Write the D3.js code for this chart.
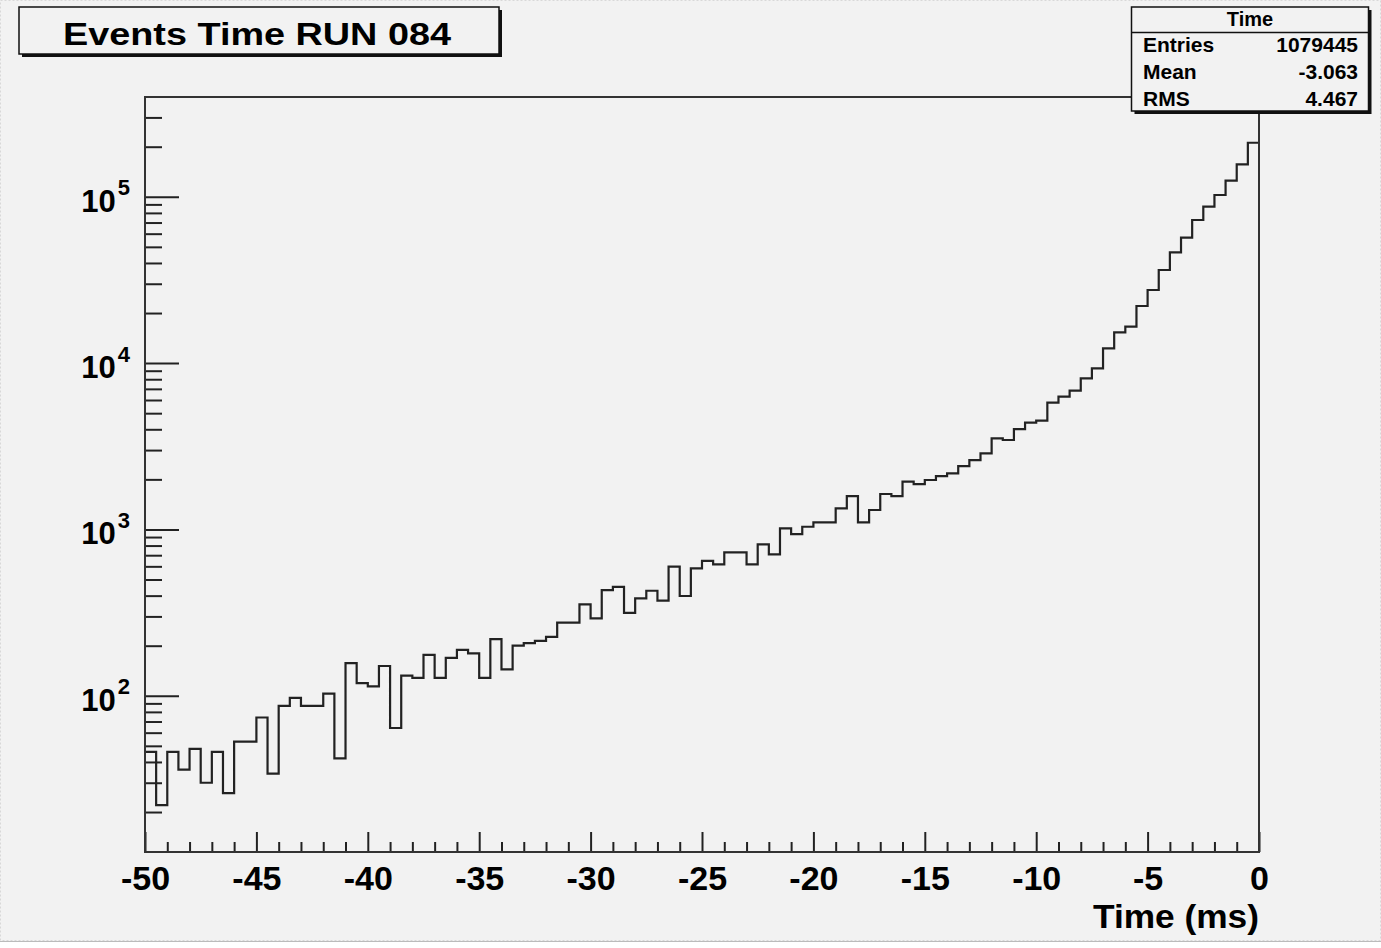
<!DOCTYPE html>
<html>
<head>
<meta charset="utf-8">
<script src="https://cdn.jsdelivr.net/npm/d3@7"></script>
<style>
  html, body { margin: 0; padding: 0; background: #ffffff; }
  svg { display: block; }
  text { font-family: "Liberation Sans", Arial, Helvetica, sans-serif; font-weight: bold; fill: #000; }
</style>
</head>
<body>
<div id="chart"></div>
<script>
// Histogram: event time distribution, 100 bins of 0.5 ms from -50 to 0 ms
const timeRange = [-50, 0];
const binCounts = [
  46, 22, 46, 36, 48, 30, 46, 26, 53, 53,
  74, 34, 87, 97, 87, 87, 103, 42, 157, 119,
  114, 151, 64, 132, 128, 176, 128, 169, 189, 180,
  128, 219, 144, 200, 207, 214, 226, 275, 275, 354,
  292, 432, 452, 315, 385, 428, 373, 597, 398, 584,
  648, 617, 728, 728, 617, 813, 708, 1015, 938, 1038,
  1103, 1103, 1339, 1588, 1103, 1309, 1633, 1588, 1936, 1874,
  1982, 2094, 2173, 2404, 2612, 2868, 3530, 3448, 4015, 4382,
  4505, 5780, 6281, 6827, 8101, 9305, 12270, 15310, 16550, 22040,
  27520, 36290, 46370, 56790, 72530, 87200, 102500, 125000, 156700, 211300
];
const countRange = [11.5, 3.98e5];
const xMajorTicks = [-50, -45, -40, -35, -30, -25, -20, -15, -10, -5, 0];
const xTickLabels = ["-50", "-45", "-40", "-35", "-30", "-25", "-20", "-15", "-10", "-5", "0"];
const yDecades = [100, 1000, 10000, 100000];
const yDecadeExponents = ["2", "3", "4", "5"];
const titleText = "Events Time RUN 084";
const statsName = "Time";
const statsLabels = ["Entries", "Mean", "RMS"];
const statsValues = ["1079445", "-3.063", "4.467"];
const xAxisTitle = "Time (ms)";

const W = 1381, H = 948;
const frame = { left: 145, top: 97, right: 1259, bottom: 852 };
const bg = "#f2f2f2";
const ink = "#222";

const svg = d3.select("#chart").append("svg")
  .attr("width", W).attr("height", H);

// canvas background
svg.append("rect").attr("x", 0).attr("y", 0).attr("width", W).attr("height", 941).attr("fill", bg);
svg.append("rect").attr("x", 0.5).attr("y", 0.5).attr("width", W - 1).attr("height", 940)
  .attr("fill", "none").attr("stroke", "#d8d8d8").attr("stroke-dasharray", "2,2");
svg.append("line").attr("x1", 0).attr("x2", W).attr("y1", 941.5).attr("y2", 941.5)
  .attr("stroke", "#bbb").attr("stroke-width", 1);

const x = d3.scaleLinear().domain(timeRange).range([frame.left, frame.right]);
const y = d3.scaleLog().domain(countRange).range([frame.bottom, frame.top]);

const nBins = binCounts.length;
const binWidth = (timeRange[1] - timeRange[0]) / nBins;
const bins = binCounts.map((c, i) => ({ x0: timeRange[0] + i * binWidth, c }));
bins.push({ x0: timeRange[1], c: binCounts[nBins - 1] });

// x axis: minor ticks every 1 ms, major every 5 ms (ticks point inward)
const xMinor = d3.range(timeRange[0], timeRange[1] + 1, 1).filter(v => v % 5 !== 0);
svg.append("g").attr("transform", `translate(0,${frame.bottom})`)
  .call(d3.axisBottom(x).tickValues(xMinor).tickSize(-10).tickFormat(""))
  .call(g => g.select(".domain").remove())
  .call(g => g.selectAll("line").attr("stroke", ink).attr("stroke-width", 2));

svg.append("g").attr("transform", `translate(0,${frame.bottom})`)
  .call(d3.axisBottom(x).tickValues(xMajorTicks).tickSize(-20).tickPadding(15)
    .tickFormat((d, i) => xTickLabels[i]))
  .call(g => g.select(".domain").remove())
  .call(g => g.selectAll("line").attr("stroke", ink).attr("stroke-width", 2))
  .call(g => g.selectAll("text")
    .attr("font-size", 34).attr("font-family", null).attr("fill", "#000")
    .attr("y", 38).attr("dy", 0));

// y axis: log scale, decades labelled, 2..9 minor ticks
const yMinor = [];
for (let d = 10; d <= 1e5; d *= 10) {
  for (let k = 2; k <= 9; k++) {
    const v = k * d;
    if (v >= countRange[0] && v <= countRange[1]) yMinor.push(v);
  }
}
svg.append("g").attr("transform", `translate(${frame.left},0)`)
  .call(d3.axisLeft(y).tickValues(yMinor).tickSize(-17).tickFormat(""))
  .call(g => g.select(".domain").remove())
  .call(g => g.selectAll("line").attr("stroke", ink).attr("stroke-width", 2));

svg.append("g").attr("transform", `translate(${frame.left},0)`)
  .call(d3.axisLeft(y).tickValues(yDecades).tickSize(-34).tickFormat(""))
  .call(g => g.select(".domain").remove())
  .call(g => g.selectAll("line").attr("stroke", ink).attr("stroke-width", 2));

yDecades.forEach((v, i) => {
  const t = svg.append("text")
    .attr("x", frame.left - 15)
    .attr("y", y(v) + 15)
    .attr("text-anchor", "end")
    .attr("font-size", 31);
  t.append("tspan").text("10");
  t.append("tspan").attr("dy", -16.5).attr("dx", 2).attr("font-size", 22).text(yDecadeExponents[i]);
});

// histogram outline
const line = d3.line()
  .x(d => x(d.x0))
  .y(d => y(d.c))
  .curve(d3.curveStepAfter);
svg.append("path")
  .datum(bins)
  .attr("d", line)
  .attr("fill", "none")
  .attr("stroke", ink)
  .attr("stroke-width", 2.2);

// frame
svg.append("rect")
  .attr("x", frame.left).attr("y", frame.top)
  .attr("width", frame.right - frame.left).attr("height", frame.bottom - frame.top)
  .attr("fill", "none").attr("stroke", "#333").attr("stroke-width", 2);

// x axis title
svg.append("text")
  .attr("x", frame.right).attr("y", 928)
  .attr("text-anchor", "end").attr("font-size", 34)
  .attr("textLength", 166).attr("lengthAdjust", "spacingAndGlyphs")
  .text(xAxisTitle);

// boxes with drop shadow
function shadowBox(x0, y0, w, h) {
  svg.append("rect").attr("x", x0 + 3).attr("y", y0 + 3).attr("width", w).attr("height", h)
    .attr("fill", "#111");
  svg.append("rect").attr("x", x0).attr("y", y0).attr("width", w).attr("height", h)
    .attr("fill", bg).attr("stroke", "#111").attr("stroke-width", 1.5);
}

// title box
shadowBox(19, 7, 480, 47);
svg.append("text")
  .attr("x", 257).attr("y", 45)
  .attr("text-anchor", "middle").attr("font-size", 32)
  .attr("textLength", 388).attr("lengthAdjust", "spacingAndGlyphs")
  .text(titleText);

// statistics box
const sb = { x: 1131.5, y: 7, w: 237, h: 104 };
shadowBox(sb.x, sb.y, sb.w, sb.h);
svg.append("line")
  .attr("x1", sb.x).attr("x2", sb.x + sb.w).attr("y1", 32.5).attr("y2", 32.5)
  .attr("stroke", "#111").attr("stroke-width", 1.5);
svg.append("text")
  .attr("x", sb.x + sb.w / 2).attr("y", 26)
  .attr("text-anchor", "middle").attr("font-size", 20)
  .text(statsName);
const rowY = [52, 79, 106];
statsLabels.forEach((lab, i) => {
  svg.append("text").attr("x", 1143).attr("y", rowY[i]).attr("font-size", 21).text(lab);
  svg.append("text").attr("x", 1358).attr("y", rowY[i]).attr("text-anchor", "end")
    .attr("font-size", 21).text(statsValues[i]);
});
</script>
</body>
</html>
